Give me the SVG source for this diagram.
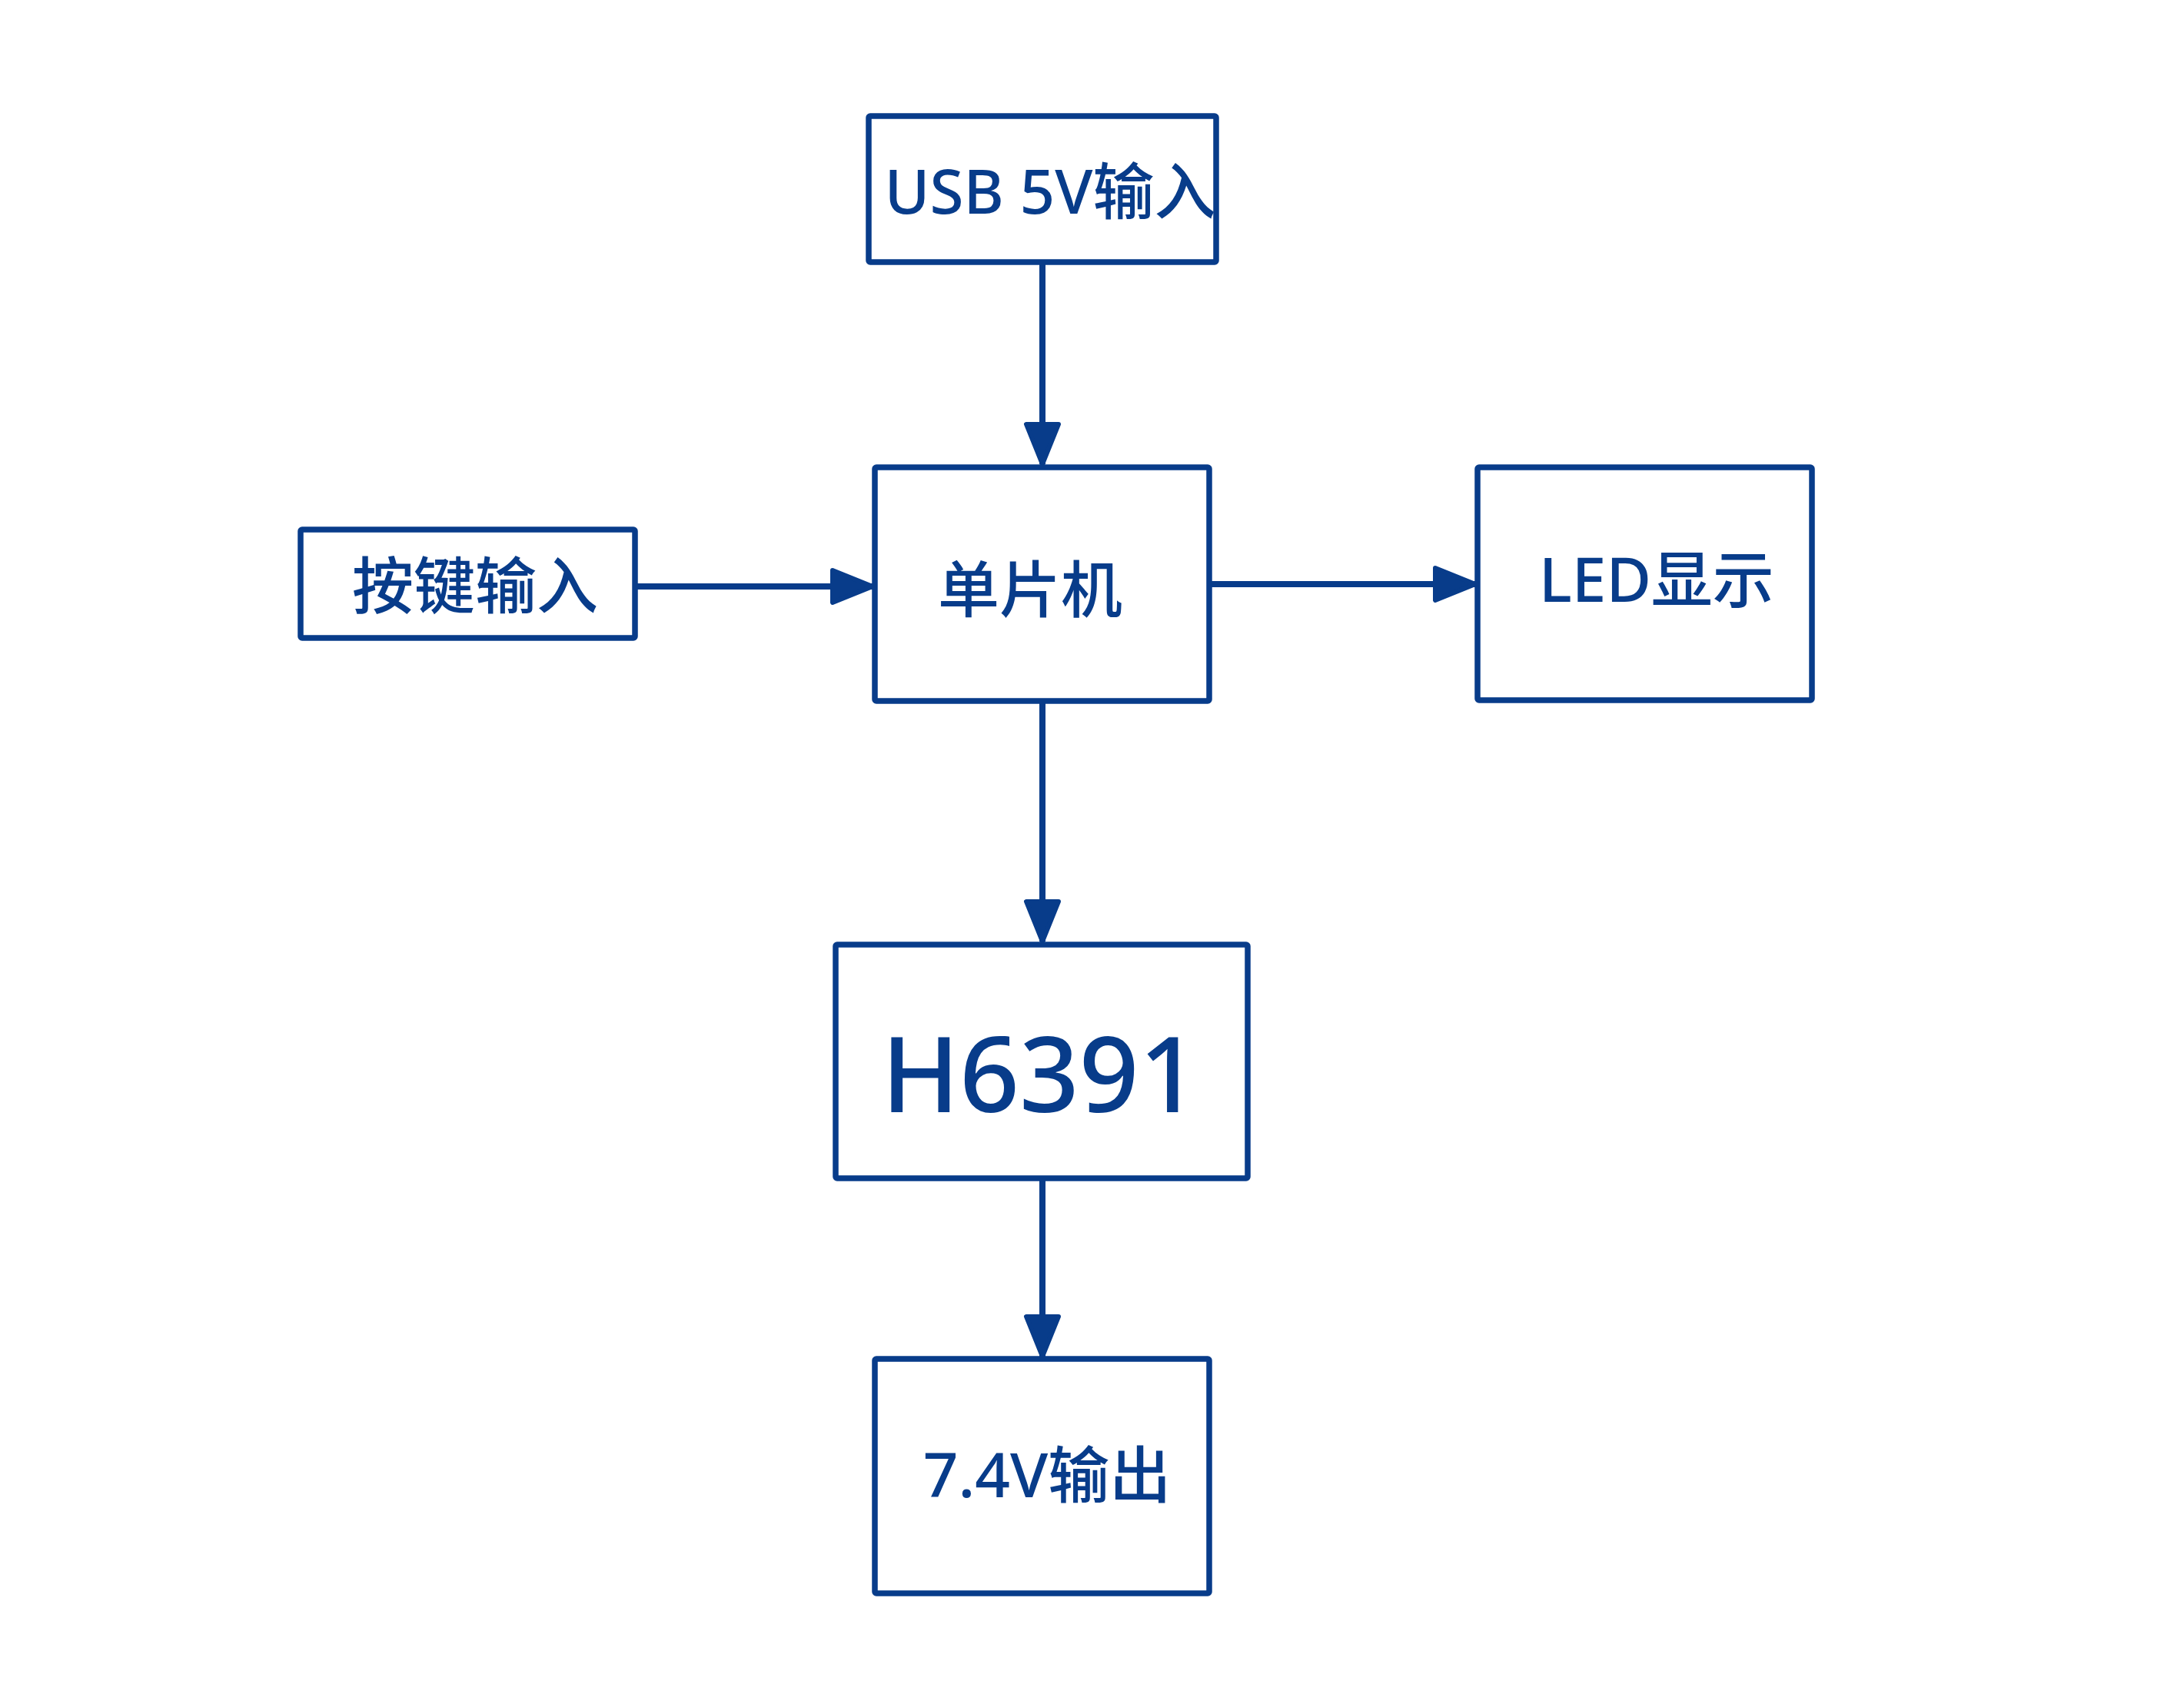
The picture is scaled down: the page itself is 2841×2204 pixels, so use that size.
<svg xmlns="http://www.w3.org/2000/svg" width="2841" height="2204" viewBox="0 0 2841 2204">
<style>
.box{fill:#fff;stroke:#083c8a;stroke-width:7.5;stroke-linejoin:round}
.wire{fill:none;stroke:#083c8a;stroke-width:8}
.lbl{fill:#083c8a;font-family:"Noto Sans","Noto Sans CJK SC",sans-serif;font-size:80px;font-weight:500;text-anchor:middle}
.big{font-size:136px}
</style>
<defs>
<marker id="ah" markerUnits="userSpaceOnUse" markerWidth="64" markerHeight="54" refX="58" refY="27" orient="auto" viewBox="0 0 64 54">
<path d="M6,6 L58,27 L6,48 z" fill="#083c8a" stroke="#083c8a" stroke-width="6" stroke-linejoin="round"/>
</marker>
</defs>
<rect width="2841" height="2204" fill="#fff"/>
<g id="connectors">
<line class="wire" x1="1356" y1="341" x2="1356" y2="604" marker-end="url(#ah)"/>
<line class="wire" x1="826" y1="763" x2="1135" y2="763" marker-end="url(#ah)"/>
<line class="wire" x1="1573" y1="760" x2="1919" y2="760" marker-end="url(#ah)"/>
<line class="wire" x1="1356" y1="911" x2="1356" y2="1225" marker-end="url(#ah)"/>
<line class="wire" x1="1356" y1="1533" x2="1356" y2="1765" marker-end="url(#ah)"/>
</g>
<g id="usb">
<rect class="box" x="1130" y="151" width="452" height="190" rx="2"/>
<text class="lbl" x="1366" y="278">USB 5V输入</text>
</g>
<g id="mcu">
<rect class="box" x="1138" y="608" width="435" height="304" rx="2"/>
<text class="lbl" x="1340" y="796">单片机</text>
</g>
<g id="key">
<rect class="box" x="391" y="689" width="435" height="141" rx="2"/>
<text class="lbl" x="618" y="791">按键输入</text>
</g>
<g id="led">
<rect class="box" x="1922" y="608" width="435" height="303" rx="2"/>
<text class="lbl" x="2155" y="783">LED显示</text>
</g>
<g id="h6391">
<rect class="box" x="1087" y="1229" width="536" height="304" rx="2"/>
<text class="lbl big" x="1353" y="1447">H6391</text>
</g>
<g id="out">
<rect class="box" x="1138" y="1768" width="435" height="305" rx="2"/>
<text class="lbl" x="1362" y="1948">7.4V输出</text>
</g>
</svg>
